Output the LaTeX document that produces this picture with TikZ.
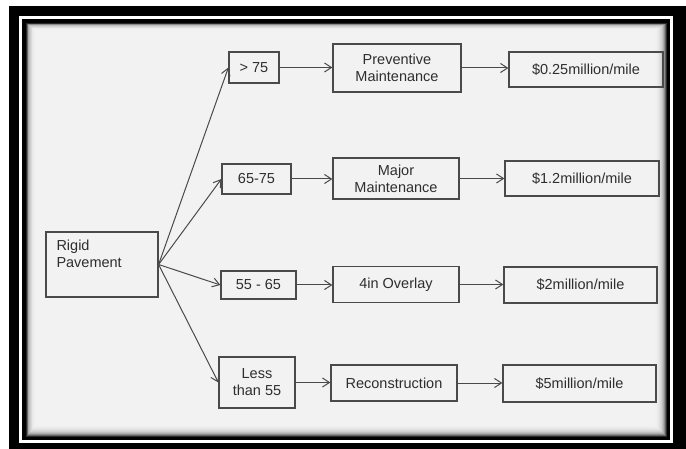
\documentclass[tikz,border=0pt]{standalone}
\usepackage{fontspec}
\setmainfont{Liberation Sans}
\usetikzlibrary{arrows.meta}
\definecolor{ink}{HTML}{2E2E2E}
\definecolor{linec}{HTML}{4A4A4A}
\definecolor{paper}{HTML}{F4F4F4}
\begin{document}
\begin{tikzpicture}[x=1pt,y=-1pt,
  box/.style={draw=linec, line width=1.2pt, text=ink, inner sep=0pt, align=center,
    font=\fontsize{14.5}{17}\selectfont},
  conn/.style={draw=linec, line width=1pt, -{Straight Barb[length=7pt,width=9pt]}}]
\useasboundingbox (0,0) rectangle (686,449);
% frame
\fill[white] (0,0) rectangle (686,449);
\fill[black] (9,6) rectangle (686,449);
\fill[white] (19,16) rectangle (673,443);
\fill[black] (22,19) rectangle (670,440);
\foreach \i in {0,...,12}{
  \pgfmathsetmacro\c{int(4+80*0.72^\i)}
  \fill[black!\c] (26+0.8*\i,23+0.6*\i) rectangle (667-1.0*\i,437-1.0*\i);
}
% nodes
\node[box, minimum width=112pt, minimum height=65pt, inner xsep=10.5pt, inner ysep=8pt] (rp) at (102,264.5)
  {\parbox[t][49pt][t]{91pt}{\raggedright Rigid\\Pavement}};
\node[box, minimum width=50pt, minimum height=31pt] (g1) at (254,67.5) {> 75};
\node[box, minimum width=69pt, minimum height=30pt] (g2) at (256.5,179) {65-75};
\node[box, minimum width=75pt, minimum height=28pt] (g3) at (258.5,285) {55 - 65};
\node[box, minimum width=76pt, minimum height=51pt] (g4) at (257,382.5) {Less\\than 55};
\node[box, minimum width=128pt, minimum height=48pt] (t1) at (397,68) {Preventive\\Maintenance};
\node[box, minimum width=126pt, minimum height=41pt] (t2) at (396,178.5) {Major\\Maintenance};
\node[box, minimum width=126pt, minimum height=36pt] (t3) at (396,284.5) {4in Overlay};
\node[box, minimum width=126pt, minimum height=36pt] (t4) at (394,383) {Reconstruction};
\node[box, minimum width=154pt, minimum height=35pt] (c1) at (586,69.5) {\$0.25million/mile};
\node[box, minimum width=154pt, minimum height=35pt] (c2) at (582,178.5) {\$1.2million/mile};
\node[box, minimum width=153pt, minimum height=36pt] (c3) at (580.5,285) {\$2million/mile};
\node[box, minimum width=153pt, minimum height=37pt] (c4) at (579.5,383.5) {\$5million/mile};
% connectors
\draw[conn] (rp.east) -- (g1.west);
\draw[conn] (rp.east) -- (g2.west);
\draw[conn] (rp.east) -- (g3.west);
\draw[conn] (rp.east) -- (g4.west);
\draw[conn] (g1.east) -- (g1.east -| t1.west);
\draw[conn] (g2.east) -- (g2.east -| t2.west);
\draw[conn] (g3.east) -- (g3.east -| t3.west);
\draw[conn] (g4.east) -- (g4.east -| t4.west);
\draw[conn] (t1.east) -- (t1.east -| c1.west);
\draw[conn] (t2.east) -- (t2.east -| c2.west);
\draw[conn] (t3.east) -- (t3.east -| c3.west);
\draw[conn] (t4.east) -- (t4.east -| c4.west);
\end{tikzpicture}
\end{document}
